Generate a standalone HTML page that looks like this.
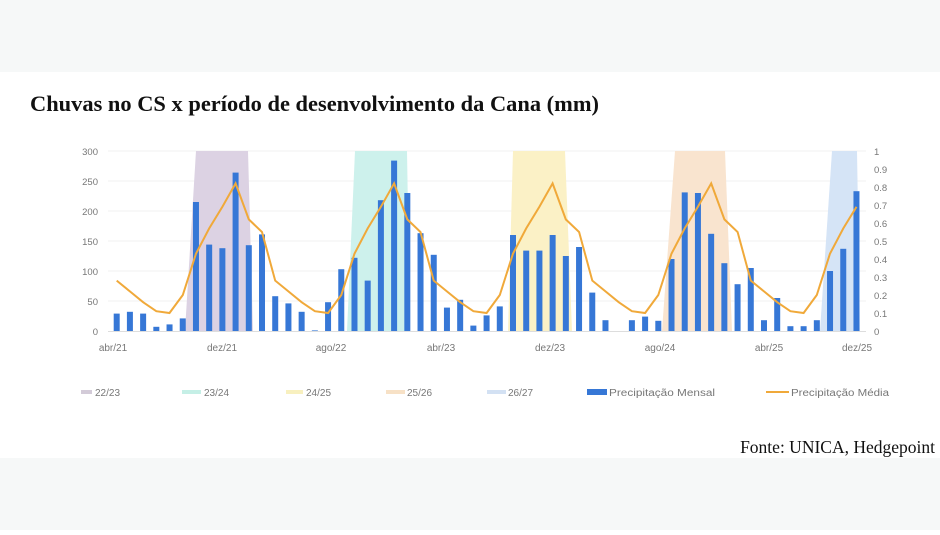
<!DOCTYPE html>
<html><head><meta charset="utf-8"><style>
body{margin:0;width:940px;height:530px;overflow:hidden;background:#fff;font-family:"Liberation Sans",sans-serif}
</style></head><body>
<svg width="940" height="530" xmlns="http://www.w3.org/2000/svg">
<rect x="0" y="0" width="940" height="72" fill="#f6f8f8"/>
<rect x="0" y="458" width="940" height="72" fill="#f6f8f8"/>
<text x="30" y="111" font-family="Liberation Serif,serif" font-weight="bold" font-size="22" fill="#111" textLength="569" lengthAdjust="spacingAndGlyphs">Chuvas no CS x período de desenvolvimento da Cana (mm)</text>
<g stroke="#f0f0f0" stroke-width="1">
<line x1="108" y1="151" x2="866" y2="151"/><line x1="108" y1="181" x2="866" y2="181"/><line x1="108" y1="211" x2="866" y2="211"/><line x1="108" y1="241" x2="866" y2="241"/><line x1="108" y1="271" x2="866" y2="271"/><line x1="108" y1="301" x2="866" y2="301"/>
</g>
<polygon points="185,331 196,151 248,151 253,331" fill="#dcd2e3"/>
<polygon points="347,331 355,151 407,151 410,331" fill="#cdf1ec"/>
<polygon points="508,331 513,151 565,151 572,331" fill="#fbf1c6"/>
<polygon points="662,331 675,151 725,151 732,331" fill="#f9e4cf"/>
<polygon points="820,331 832,151 857,151 860,331" fill="#d5e4f6"/>
<line x1="108" y1="331.5" x2="866" y2="331.5" stroke="#ddd"/>
<g id="bars" fill="#3677d6"></g>
<polyline id="ln" fill="none" stroke="#f0a93a" stroke-width="2"/>
<g font-size="9.5" fill="#777" text-anchor="end">
<text x="98" y="155">300</text><text x="98" y="185">250</text><text x="98" y="215">200</text><text x="98" y="245">150</text><text x="98" y="275">100</text><text x="98" y="305">50</text><text x="98" y="335">0</text>
</g>
<g font-size="9.5" fill="#777">
<text x="874" y="155">1</text><text x="874" y="173">0.9</text><text x="874" y="191">0.8</text><text x="874" y="209">0.7</text><text x="874" y="227">0.6</text><text x="874" y="245">0.5</text><text x="874" y="263">0.4</text><text x="874" y="281">0.3</text><text x="874" y="299">0.2</text><text x="874" y="317">0.1</text><text x="874" y="335">0</text>
</g>
<g font-size="10" fill="#777" text-anchor="middle">
<text x="113" y="351">abr/21</text><text x="222" y="351">dez/21</text><text x="331" y="351">ago/22</text><text x="441" y="351">abr/23</text><text x="550" y="351">dez/23</text><text x="660" y="351">ago/24</text><text x="769" y="351">abr/25</text><text x="857" y="351">dez/25</text>
</g>
<g font-size="10" fill="#777">
<rect x="81" y="390" width="11" height="4" fill="#d3cbd8"/><text x="95" y="396">22/23</text>
<rect x="182" y="390" width="19" height="4" fill="#c5efe6"/><text x="204" y="396">23/24</text>
<rect x="286" y="390" width="17" height="4" fill="#f8f0bf"/><text x="306" y="396">24/25</text>
<rect x="386" y="390" width="19" height="4" fill="#f7e1c6"/><text x="407" y="396">25/26</text>
<rect x="487" y="390" width="19" height="4" fill="#d3e1f3"/><text x="508" y="396">26/27</text>
<rect x="587" y="389" width="20" height="6" fill="#3677d6"/><text x="609" y="396" textLength="106" lengthAdjust="spacingAndGlyphs">Precipitação Mensal</text>
<line x1="766" y1="392" x2="789" y2="392" stroke="#f0a93a" stroke-width="2"/><text x="791" y="396" textLength="98" lengthAdjust="spacingAndGlyphs">Precipitação Média</text>
</g>
<text x="935" y="453" text-anchor="end" font-family="Liberation Serif,serif" font-size="17.5" fill="#111">Fonte: UNICA, Hedgepoint</text>
</svg>
<script>
var v=[29,32,29,7,11,21,215,144,138,264,143,161,58,46,32,1,48,103,122,84,218,284,230,163,127,39,52,9,26,41,160,134,134,160,125,140,64,18,0,18,24,17,120,231,230,162,113,78,105,18,55,8,8,18,100,137,233];
var p=[.28,.22,.16,.11,.10,.2,.43,.57,.69,.82,.62,.55];
var g=document.getElementById('bars'),pts=[];
for(var i=0;i<v.length;i++){var x=116.7+i*13.21,h=v[i]*0.6;
if(h>0){var r=document.createElementNS('http://www.w3.org/2000/svg','rect');r.setAttribute('x',x-3);r.setAttribute('y',331-h);r.setAttribute('width',6);r.setAttribute('height',h);g.appendChild(r);}
pts.push(x.toFixed(1)+','+(331-p[i%12]*180).toFixed(1));}
document.getElementById('ln').setAttribute('points',pts.join(' '));
</script>
</body></html>
